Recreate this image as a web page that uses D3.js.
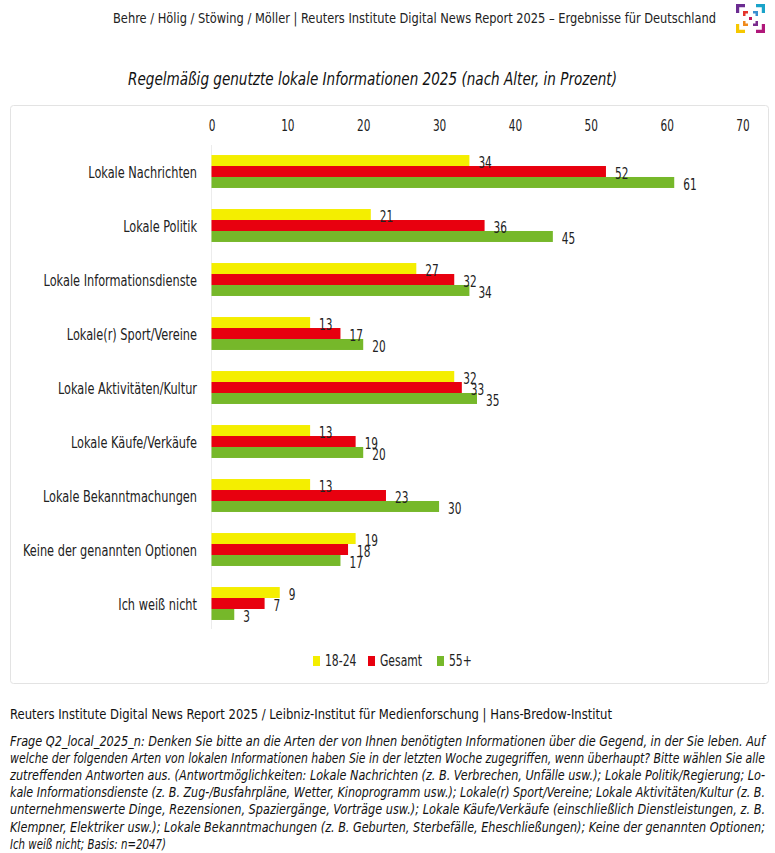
<!DOCTYPE html>
<html><head><meta charset="utf-8">
<script src="https://cdn.jsdelivr.net/npm/d3@7"></script>
<style>
html,body{margin:0;padding:0;background:#fff;}
svg{display:block;font-family:"DejaVu Sans Condensed","DejaVu Sans",sans-serif;}
</style></head>
<body>
<svg id="chart" width="775" height="853"></svg>
<script>
const categories = ["Lokale Nachrichten","Lokale Politik","Lokale Informationsdienste","Lokale(r) Sport/Vereine","Lokale Aktivitäten/Kultur","Lokale Käufe/Verkäufe","Lokale Bekanntmachungen","Keine der genannten Optionen","Ich weiß nicht"];
const seriesNames = ["18-24","Gesamt","55+"];
const values1824 = [34,21,27,13,32,13,13,19,9];
const valuesGesamt = [52,36,32,17,33,19,23,18,7];
const values55 = [61,45,34,20,35,20,30,17,3];
const tickValues = [0,10,20,30,40,50,60,70];
const colors = ["#f4ee00","#e8000f","#76b82a"];

const headerText = "Behre / Hölig / Stöwing / Möller | Reuters Institute Digital News Report 2025 – Ergebnisse für Deutschland";
const titleText = "Regelmäßig genutzte lokale Informationen 2025 (nach Alter, in Prozent)";
const sourceText = "Reuters Institute Digital News Report 2025 / Leibniz-Institut für Medienforschung | Hans-Bredow-Institut";
const noteLines = [
"Frage Q2_local_2025_n: Denken Sie bitte an die Arten der von Ihnen benötigten Informationen über die Gegend, in der Sie leben. Auf",
"welche der folgenden Arten von lokalen Informationen haben Sie in der letzten Woche zugegriffen, wenn überhaupt? Bitte wählen Sie alle",
"zutreffenden Antworten aus. (Antwortmöglichkeiten: Lokale Nachrichten (z. B. Verbrechen, Unfälle usw.); Lokale Politik/Regierung; Lo-",
"kale Informationsdienste (z. B. Zug-/Busfahrpläne, Wetter, Kinoprogramm usw.); Lokale(r) Sport/Vereine; Lokale Aktivitäten/Kultur (z. B.",
"unternehmenswerte Dinge, Rezensionen, Spaziergänge, Vorträge usw.); Lokale Käufe/Verkäufe (einschließlich Dienstleistungen, z. B.",
"Klempner, Elektriker usw.); Lokale Bekanntmachungen (z. B. Geburten, Sterbefälle, Eheschließungen); Keine der genannten Optionen;",
"Ich weiß nicht; Basis: n=2047)"
];

const seriesValues = [values1824, valuesGesamt, values55];
const rows = categories.map((c,i)=>({cat:c, vals: seriesValues.map((s,k)=>({name:seriesNames[k], v:s[i], k}))}));

const svg = d3.select("#chart");

// squeeze text horizontally to emulate the condensed face of the original
function squeeze(sel, factor){
  sel.each(function(){
    const w = this.getComputedTextLength();
    d3.select(this).attr("textLength", (w*factor).toFixed(1)).attr("lengthAdjust","spacingAndGlyphs");
  });
}
function fitTo(sel, width){
  sel.attr("textLength", width).attr("lengthAdjust","spacingAndGlyphs");
}

// header
fitTo(svg.append("text").attr("x",113).attr("y",23)
  .attr("font-size",14.5).attr("fill","#222").text(headerText), 603);

// logo
const logo = svg.append("g").attr("transform","translate(736,4)");
[
 {d:"M0,0 H9 V3.2 H3.2 V9 H0 Z", c:"#6b2c91"},
 {d:"M29,0 H20 V3.2 H25.8 V9 H29 Z", c:"#1aa3c9"},
 {d:"M0,29 H9 V25.8 H3.2 V20 H0 Z", c:"#f6c800"},
 {d:"M29,29 H20 V25.8 H25.8 V20 H29 Z", c:"#b0177a"},
 {d:"M7,7 H12 V9.5 H9.5 V12 H7 Z", c:"#e4342b"},
 {d:"M22,7 H17 V9.5 H19.5 V12 H22 Z", c:"#3a8fd0"},
 {d:"M7,22 H12 V19.5 H9.5 V17 H7 Z", c:"#f08a1c"},
 {d:"M22,22 H17 V19.5 H19.5 V17 H22 Z", c:"#7b2d8e"},
 {d:"M13,13 H16 V16 H13 Z", c:"#c2185b"}
].forEach(p=>logo.append("path").attr("d",p.d).attr("fill",p.c));

// title
fitTo(svg.append("text").attr("x",128).attr("y",85)
  .attr("font-size",18).attr("font-style","italic").attr("fill","#111").text(titleText), 489);

// panel
svg.append("rect").attr("x",10.5).attr("y",105.5).attr("width",758).attr("height",578)
  .attr("rx",3).attr("fill","#fff").attr("stroke","#e3e3e3").attr("stroke-width",1);

const x = d3.scaleLinear().domain([0,70]).range([211.5,742.5]);
const y = d3.scaleBand().domain(categories).range([144.5,630.5]).paddingInner(0.39).paddingOuter(0.195);
const ys = d3.scaleBand().domain(seriesNames).range([0,y.bandwidth()]);

// axis
const axis = d3.axisTop(x).tickValues(tickValues).tickSize(0).tickPadding(0).tickFormat(d3.format("d"));
const ag = svg.append("g").attr("transform","translate(0,131)").call(axis);
ag.select(".domain").remove();
ag.selectAll("text").attr("font-size",15).attr("fill","#222")
  .attr("font-family","'DejaVu Sans Condensed','DejaVu Sans',sans-serif");
squeeze(ag.selectAll("text"), 0.78);

// vertical baseline
svg.append("line").attr("x1",x(0)).attr("x2",x(0)).attr("y1",145).attr("y2",629)
  .attr("stroke","#ececec").attr("stroke-width",1);

const g = svg.append("g").selectAll("g.row").data(rows).join("g").attr("class","row")
  .attr("transform",d=>`translate(0,${y(d.cat)})`);

g.selectAll("rect").data(d=>d.vals).join("rect")
  .attr("x",x(0)).attr("y",d=>ys(d.name)).attr("width",d=>x(d.v)-x(0))
  .attr("height",ys.bandwidth()).attr("fill",d=>colors[d.k]);

const vl = g.selectAll("text.val").data(d=>d.vals).join("text").attr("class","val")
  .attr("x",d=>x(d.v)+9).attr("y",d=>ys(d.name)+ys.bandwidth()/2+2)
  .attr("dy","0.35em").attr("font-size",15).attr("fill","#222").text(d=>d.v);
squeeze(vl, 0.78);

// category labels
const cl = svg.append("g").selectAll("text").data(categories).join("text")
  .attr("x",197).attr("y",d=>y(d)+y.bandwidth()/2+1).attr("dy","0.35em")
  .attr("text-anchor","end").attr("font-size",15).attr("fill","#222").text(d=>d);
squeeze(cl, 0.84);

// legend
const legendX = [313, 368, 437];
const lg = svg.append("g").selectAll("g").data(seriesNames).join("g")
  .attr("transform",(d,i)=>`translate(${legendX[i]},656)`);
lg.append("rect").attr("width",7).attr("height",10).attr("fill",(d,i)=>colors[i]);
squeeze(lg.append("text").attr("x",12).attr("y",5).attr("dy","0.35em").attr("font-size",15).attr("fill","#222").text(d=>d), 0.8);

// source
fitTo(svg.append("text").attr("x",10).attr("y",719).attr("font-size",14.5).attr("fill","#111").text(sourceText), 602);

// note
const nt = svg.append("g").selectAll("text").data(noteLines).join("text")
  .attr("x",10).attr("y",(d,i)=>746+i*17.1)
  .attr("font-size",13.5).attr("font-style","italic").attr("fill","#111").text(d=>d);
nt.each(function(d,i){
  if(i<noteLines.length-1) fitTo(d3.select(this), 755);
  else squeeze(d3.select(this), 0.84);
});
</script>
</body></html>
